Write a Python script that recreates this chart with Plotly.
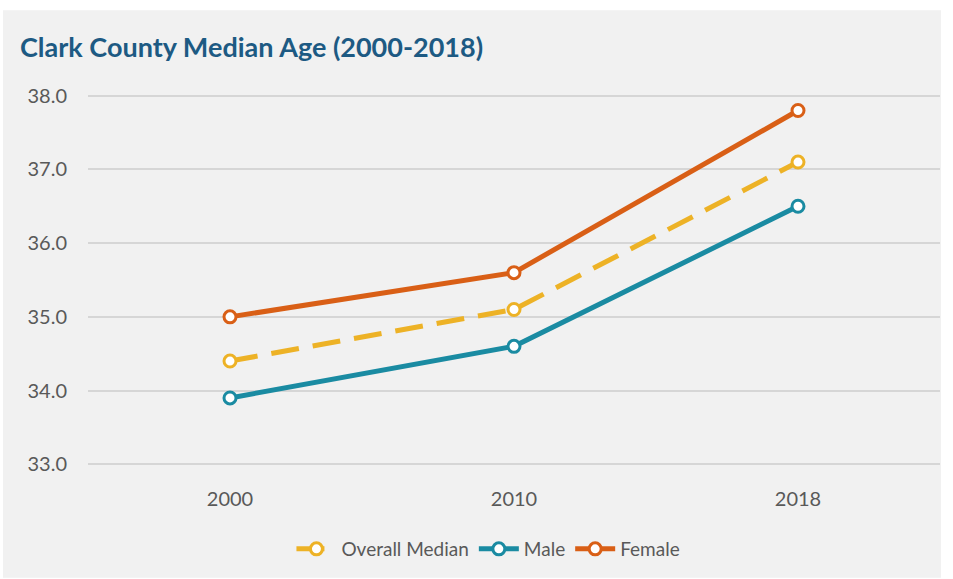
import plotly.graph_objects as go

# Census years and median age by group
years = ["2000", "2010", "2018"]
overall_median = [34.4, 35.1, 37.1]
male_median = [33.9, 34.6, 36.5]
female_median = [35.0, 35.6, 37.8]
y_ticks = [33, 34, 35, 36, 37, 38]
y_tick_labels = ["33.0", "34.0", "35.0", "36.0", "37.0", "38.0"]

GOLD = "#EDB226"
TEAL = "#1A8BA2"
ORANGE = "#D95F16"

W, H = 953, 579
L, R, T, B = 88, 13, 81, 99

fig = go.Figure()

def add_series(name, values, color, dash):
    fig.add_trace(go.Scatter(
        x=years, y=values, name=name, mode="lines+markers",
        line=dict(color=color, width=5, dash=dash),
        marker=dict(symbol="circle", size=12, color="white",
                    line=dict(color=color, width=3)),
    ))

add_series("Overall Median", overall_median, GOLD, "28px,14px")
add_series("Male", male_median, TEAL, "solid")
add_series("Female", female_median, ORANGE, "solid")

pw = W - L - R
ph = H - T - B

def px_x(p):
    return (p - L) / pw

def px_y(p):
    return (H - B - p) / ph

# light grey card behind the chart
fig.add_shape(type="rect", xref="paper", yref="paper",
              x0=px_x(3), x1=px_x(941), y0=px_y(579), y1=px_y(10),
              fillcolor="#F1F1F1", line=dict(width=0), layer="below")

fig.update_layout(
    width=W, height=H,
    margin=dict(l=L, r=R, t=T, b=B),
    paper_bgcolor="white",
    plot_bgcolor="rgba(0,0,0,0)",
    font=dict(family="Lato", color="#595959", size=19),
    title=dict(text="<b>Clark County Median Age (2000-2018)</b>",
               x=20 / W, xanchor="left", y=1 - 48 / H, yanchor="middle",
               font=dict(family="Lato", size=27, color="#1D5A83")),
    showlegend=True,
    legend=dict(orientation="h", x=0.47, xanchor="center",
                y=px_y(549), yanchor="middle",
                font=dict(size=19, color="#595959"),
                bgcolor="rgba(0,0,0,0)", traceorder="normal",
                itemwidth=40),
    xaxis=dict(type="category", showgrid=False, showline=False,
               ticks="", tickfont=dict(size=20, color="#595959"),
               ticklabelstandoff=6,
               range=[-0.5, 2.5], fixedrange=True),
    yaxis=dict(range=[32.8, 38.2], tickvals=y_ticks, ticktext=y_tick_labels,
               showgrid=True, gridcolor="#D6D6D6", gridwidth=1.5,
               zeroline=False, showline=False, ticks="",
               ticklabelstandoff=20,
               tickfont=dict(size=20, color="#595959")),
)

fig.write_html("out.html")
